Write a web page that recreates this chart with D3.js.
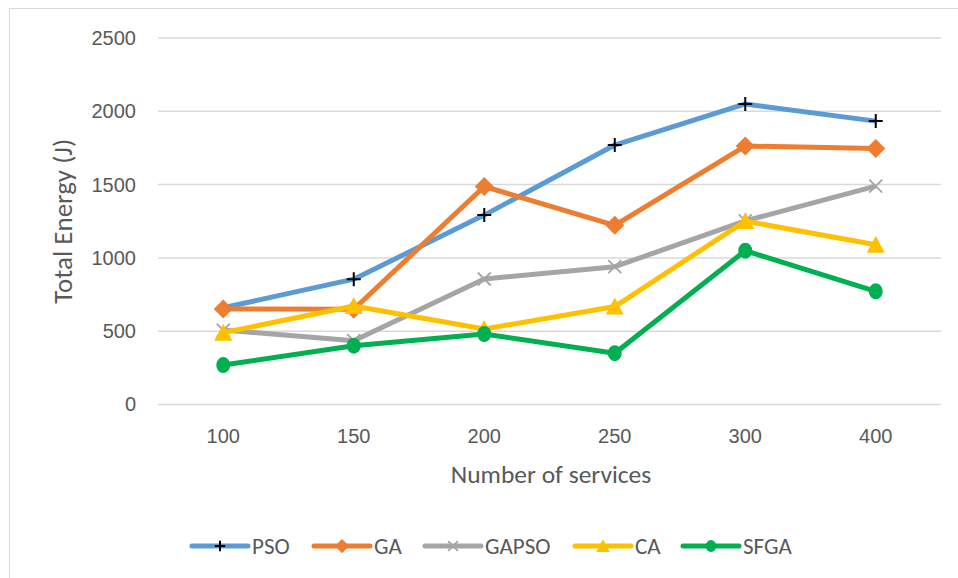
<!DOCTYPE html>
<html>
<head>
<meta charset="utf-8">
<script src="https://cdn.jsdelivr.net/npm/d3@7"></script>
<style>
  html, body { margin: 0; padding: 0; background: #fff; }
  svg { display: block; font-family: Carlito, Lato, "Open Sans", sans-serif; }
</style>
</head>
<body>
<svg id="chart" width="958" height="578"></svg>
<script>
const categories = ["100", "150", "200", "250", "300", "400"];
const seriesNames = ["PSO", "GA", "GAPSO", "CA", "SFGA"];
const PSO   = [660, 855, 1292, 1770, 2050, 1933];
const GA    = [651, 650, 1487, 1222, 1763, 1747];
const GAPSO = [508, 435, 856, 940, 1252, 1490];
const CA    = [490, 672, 515, 668, 1251, 1090];
const SFGA  = [269, 401, 481, 350, 1049, 772];
const yTicks = [0, 500, 1000, 1500, 2000, 2500];
const colors = ["#5B9BD5", "#ED7D31", "#A5A5A5", "#FFC000", "#00B050"];
const markerTypes = ["plus", "diamond", "cross", "triangle", "circle"];
const seriesValues = [PSO, GA, GAPSO, CA, SFGA];

const svg = d3.select("#chart");
const plot = { left: 158, right: 941, top: 38, bottom: 404.5 };

// outer border
svg.append("rect").attr("x", 9.5).attr("y", 8.5).attr("width", 1000).attr("height", 1000)
  .attr("fill", "none").attr("stroke", "#D9D9D9").attr("stroke-width", 1);

const x = d3.scaleBand().domain(categories).range([plot.left, plot.right]);
const y = d3.scaleLinear().domain([0, 2500]).range([plot.bottom, plot.top]);

// gridlines
svg.append("g").selectAll("line").data(yTicks).join("line")
  .attr("x1", plot.left).attr("x2", plot.right)
  .attr("y1", d => y(d)).attr("y2", d => y(d))
  .attr("stroke", "#D9D9D9").attr("stroke-width", 1.5);

// y axis labels
const yAxis = d3.axisLeft(y).tickValues(yTicks).tickFormat(d3.format("d")).tickSize(0).tickPadding(0);
const gy = svg.append("g").attr("transform", `translate(136,0)`).call(yAxis);
gy.select(".domain").remove();
gy.selectAll("text").attr("fill", "#595959").style("font-size", "20px").attr("font-family", null);

// x axis labels
const xAxis = d3.axisBottom(x).tickSize(0).tickPadding(0);
const gx = svg.append("g").attr("transform", `translate(0,${plot.bottom + 24})`).call(xAxis);
gx.select(".domain").remove();
gx.selectAll("text").attr("fill", "#595959").style("font-size", "20px").attr("font-family", null);

// axis titles
svg.append("text").attr("x", 551).attr("y", 483)
  .attr("text-anchor", "middle").attr("fill", "#595959").style("font-size", "25.5px")
  .text("Number of services");
svg.append("text").attr("transform", `translate(72,${(plot.top + plot.bottom) / 2}) rotate(-90)`)
  .attr("text-anchor", "middle").attr("fill", "#595959").style("font-size", "27px")
  .text("Total Energy (J)");

function drawMarker(g, type, color, cx, cy, scale) {
  const s = scale || 1;
  if (type === "plus") {
    g.append("path").attr("d", `M${cx - 7 * s},${cy}H${cx + 7 * s}M${cx},${cy - 7 * s}V${cy + 7 * s}`)
      .attr("stroke", "#000").attr("stroke-width", 2).attr("fill", "none");
  } else if (type === "diamond") {
    g.append("path").attr("d", `M${cx},${cy - 9.5 * s}L${cx + 9.5 * s},${cy}L${cx},${cy + 9.5 * s}L${cx - 9.5 * s},${cy}Z`)
      .attr("fill", color);
  } else if (type === "cross") {
    g.append("path").attr("d", `M${cx - 6.5 * s},${cy - 6.5 * s}L${cx + 6.5 * s},${cy + 6.5 * s}M${cx - 6.5 * s},${cy + 6.5 * s}L${cx + 6.5 * s},${cy - 6.5 * s}`)
      .attr("stroke", color).attr("stroke-width", 1.8).attr("fill", "none");
  } else if (type === "triangle") {
    g.append("path").attr("d", `M${cx},${cy - 9 * s}L${cx + 9 * s},${cy + 8 * s}L${cx - 9 * s},${cy + 8 * s}Z`)
      .attr("fill", color);
  } else if (type === "circle") {
    g.append("ellipse").attr("cx", cx).attr("cy", cy).attr("rx", 7 * s).attr("ry", 8 * s)
      .attr("fill", color);
  }
}

const line = d3.line().x((d, i) => x(categories[i]) + x.bandwidth() / 2).y(d => y(d));

seriesValues.forEach((vals, k) => {
  const g = svg.append("g");
  g.append("path").datum(vals).attr("d", line)
    .attr("fill", "none").attr("stroke", colors[k]).attr("stroke-width", 5)
    .attr("stroke-linejoin", "round");
  vals.forEach((v, i) => {
    drawMarker(g, markerTypes[k], colors[k], x(categories[i]) + x.bandwidth() / 2, y(v));
  });
});

// legend
const legendX = [192, 314, 425, 575, 683];
const legendY = 546;
seriesNames.forEach((name, k) => {
  const g = svg.append("g");
  const x0 = legendX[k];
  g.append("line").attr("x1", x0).attr("x2", x0 + 56).attr("y1", legendY).attr("y2", legendY)
    .attr("stroke", colors[k]).attr("stroke-width", 5).attr("stroke-linecap", "round");
  drawMarker(g, markerTypes[k], colors[k], x0 + 28, legendY, 0.75);
  g.append("text").attr("x", x0 + 60).attr("y", legendY).attr("dy", "0.35em")
    .attr("fill", "#595959").style("font-size", "23px").text(name);
});
</script>
</body>
</html>
